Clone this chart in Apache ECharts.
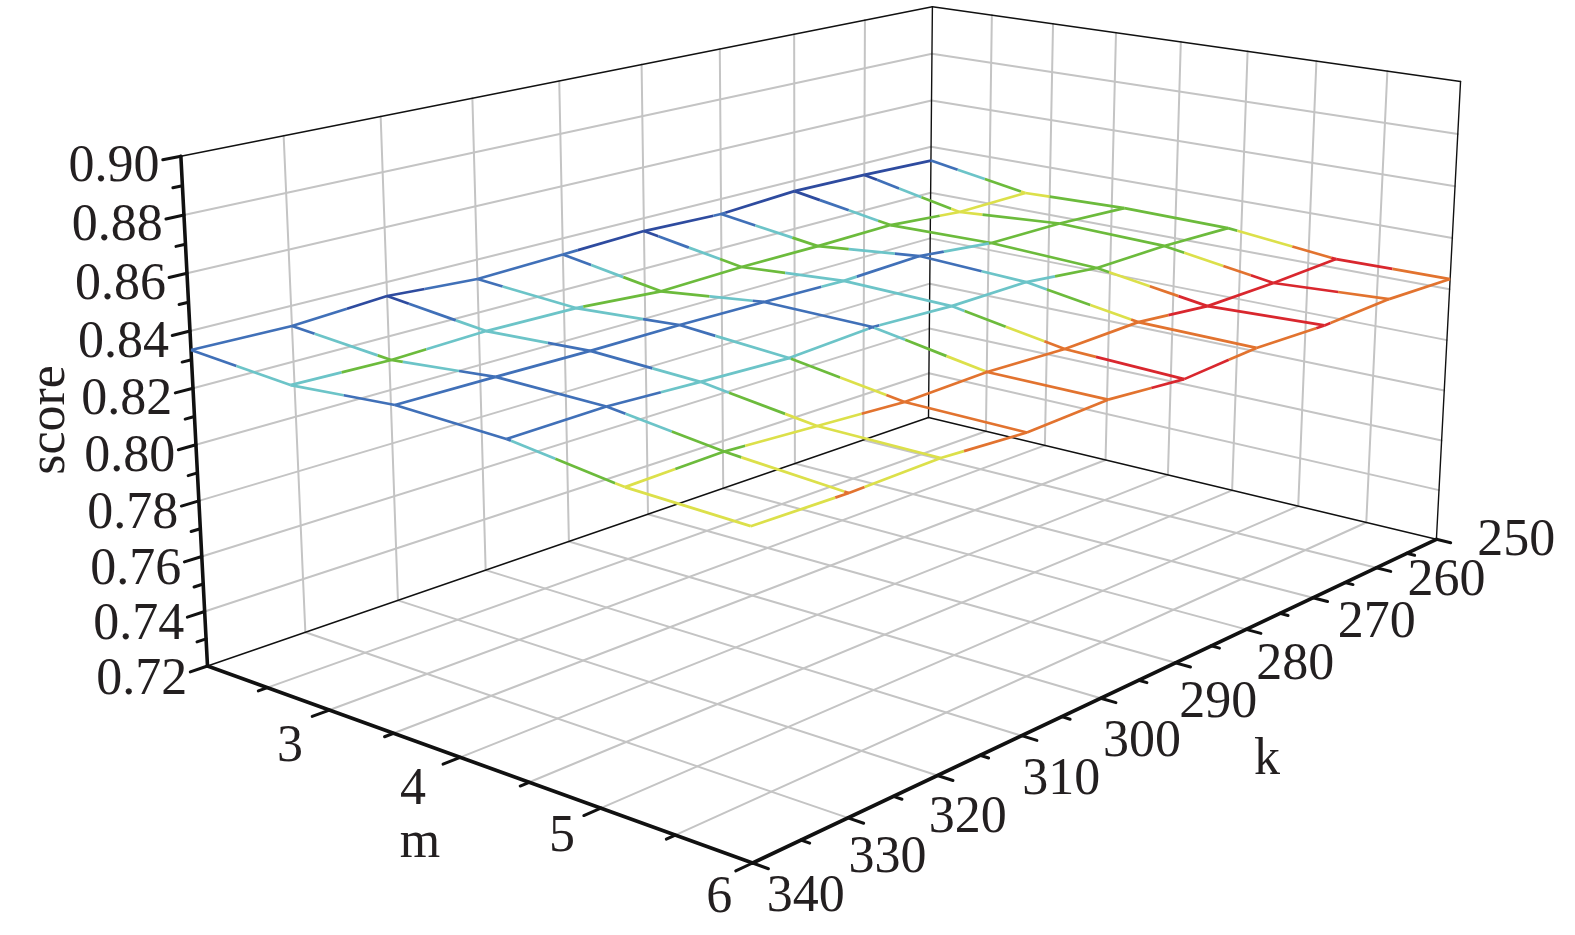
<!DOCTYPE html>
<html><head><meta charset="utf-8">
<style>html,body{margin:0;padding:0;background:#fff}#c{width:1575px;height:935px}</style>
<script src="https://cdn.jsdelivr.net/npm/echarts@6/dist/echarts.min.js"></script>
</head><body><div id="c"></div>
<script>
// ---- data ----
const kValues=[340,330,320,310,300,290,280,270,260,250];
const mValues=[2,2.8,3.6,4.4,5.2,6];
const scoreM2  =[.8334,.8328,.8349,.8327,.8338,.8349,.8339,.8357,.8351,.8340];
const scoreM2_8=[.8306,.8298,.8309,.8304,.8280,.8289,.8289,.8294,.8270,.8274];
const scoreM3_6=[.8335,.8333,.8329,.8330,.8326,.8319,.8331,.8301,.8300,.8286];
const scoreM4_4=[.8323,.8329,.8315,.8303,.8322,.8310,.8314,.8284,.8289,.8281];
const scoreM5_2=[.8273,.8281,.8263,.8245,.8253,.8242,.8250,.8222,.8225,.8236];
const scoreM6  =[.8260,.8253,.8259,.8240,.8252,.8227,.8245,.8237,.8248,.8240];
const scores=[scoreM2,scoreM2_8,scoreM3_6,scoreM4_4,scoreM5_2,scoreM6];
const zTicks=[.72,.74,.76,.78,.80,.82,.84,.86,.88,.90];
const mTicks=[3,4,5,6];
const kTicks=[340,330,320,310,300,290,280,270,260,250];
const kGrid=[260,270,280,290,300,310,320,330];
const mGrid=[2.5,3,3.5,4,4.5,5,5.5];
const zGrid=[.74,.76,.78,.80,.82,.84,.86,.88];
const bandLevels=[.8238,.8254,.8277,.8302,.8321,.8340];
const bandColors=['#d9272e','#e2732f','#dce04a','#6cbb3c','#6cc4c8','#4070b8','#2e4b9f'];

// ---- perspective camera: box corners on the page ----
const O=[928.5,417.5],U=[207.5,666],V=[1436.4,539.3],W=[932.4,6.7],D=[752.6,863],c=0.9666;
const det=(U[0]-D[0])*(V[1]-D[1])-(U[1]-D[1])*(V[0]-D[0]);
const r=[O[0]-D[0],O[1]-D[1]];
const a=(r[0]*(V[1]-D[1])-r[1]*(V[0]-D[0]))/det;
const b=((U[0]-D[0])*r[1]-(U[1]-D[1])*r[0])/det;
function proj(m,k,z){const u=(k-250)/90,v=(m-2)/4,w=(z-0.72)/0.18;
 const d=1+u*(a-1)+v*(b-1)+w*(c-1);
 return [0,1].map(i=>(O[i]+u*(a*U[i]-O[i])+v*(b*V[i]-O[i])+w*(c*W[i]-O[i]))/d);}

// ---- box ----
const gridSegs=[];
kGrid.forEach(k=>{gridSegs.push([2,k,.72,6,k,.72]);gridSegs.push([2,k,.72,2,k,.9]);});
mGrid.forEach(m=>{gridSegs.push([m,250,.72,m,340,.72]);gridSegs.push([m,250,.72,m,250,.9]);});
zGrid.forEach(z=>{gridSegs.push([2,340,z,2,250,z]);gridSegs.push([2,250,z,6,250,z]);});
const thinEdges=[[2,250,.72,2,250,.9],[2,250,.72,2,340,.72],[2,250,.72,6,250,.72],[2,250,.9,2,340,.9],[2,250,.9,6,250,.9],[6,250,.72,6,250,.9]];
const axisLines=[[2,340,.72,2,340,.9],[2,340,.72,6,340,.72],[6,340,.72,6,250,.72]];
const tickSegs=[];
for(let i=0;i<=18;i++){const z=.72+i*.01;tickSegs.push([2,340,z,2,340+(i%2?.9:1.7),z]);}
for(let i=1;i<=8;i++){const m=2+i*.5;tickSegs.push([m,340,.72,m,340+(i%2?.9:1.7),.72]);}
for(let i=0;i<=18;i++){const k=250+i*5;tickSegs.push([6,k,.72,6+(i%2?.055:.1),k,.72]);}

// ---- colour bands along each wire ----
const band=z=>{let i=0;while(i<bandLevels.length&&z>=bandLevels[i])i++;return i;};
function pieces(A,B){const out=[],za=A[2],zb=B[2],cuts=[0];
 bandLevels.forEach(l=>{const t=(l-za)/(zb-za);if(t>0&&t<1)cuts.push(t);});
 cuts.sort((x,y)=>x-y);cuts.push(1);
 const L=t=>A.map((v,n)=>v+(B[n]-v)*t);
 for(let i=0;i<cuts.length-1;i++){out.push([L(cuts[i]),L(cuts[i+1]),bandColors[band(za+(zb-za)*(cuts[i]+cuts[i+1])/2)]]);}
 return out;}
const vertices=[];scores.forEach((row,i)=>row.forEach((z,j)=>vertices.push([mValues[i],kValues[j],z])));

function segSeries(name,data,color,w){return{type:'custom',name,coordinateSystem:'cartesian2d',data,silent:true,clip:false,
 renderItem(p,api){const s=api.coord(proj(api.value(0),api.value(1),api.value(2))),e=api.coord(proj(api.value(3),api.value(4),api.value(5)));
  return{type:'line',shape:{x1:s[0],y1:s[1],x2:e[0],y2:e[1]},style:{stroke:color,lineWidth:w,lineCap:'round'}};}};}
const wireSeries={type:'custom',name:'score',coordinateSystem:'cartesian2d',data:vertices,silent:true,clip:false,
 renderItem(p,api){const idx=p.dataIndex,i=Math.floor(idx/10),j=idx%10,A=[api.value(0),api.value(1),api.value(2)],children=[];
  const nb=[];if(j<9)nb.push(vertices[idx+1]);if(i<5)nb.push(vertices[idx+10]);
  nb.forEach(B=>pieces(A,B).forEach(([s,e,col])=>{const p1=api.coord(proj(...s)),p2=api.coord(proj(...e));
   children.push({type:'line',shape:{x1:p1[0],y1:p1[1],x2:p2[0],y2:p2[1]},style:{stroke:col,lineWidth:2.7}});}));
  return{type:'group',children};}};

// ---- labels ----
const mShift=[[22,15],[14,9],[22,3],[27,7]];
const kShift=[[10,19],[-3,26],[-12,29],[-2,32],[0,32],[2,29],[9,25],[24,15],[31,4],[41,-7]];
const labels=[];
zTicks.forEach(z=>{const q=proj(2,342,z);labels.push({p:[q[0],q[1]+7],t:z.toFixed(2),al:'right'});});
mTicks.forEach((m,i)=>{const q=proj(m,346,.72);labels.push({p:[q[0]+mShift[i][0],q[1]+mShift[i][1]],t:String(m),al:'center'});});
kTicks.forEach((k,i)=>{const q=proj(6.27,k,.72);labels.push({p:[q[0]+kShift[i][0],q[1]+kShift[i][1]],t:String(k),al:'center'});});
labels.push({p:[420,843],t:'m',al:'center'},{p:[1267,760],t:'k',al:'center'},{p:[50,420],t:'score',al:'center',rot:Math.PI/2});
const labelSeries={type:'custom',name:'labels',coordinateSystem:'cartesian2d',data:labels.map((l,i)=>[i]),silent:true,clip:false,
 renderItem(p,api){const l=labels[p.dataIndex],q=api.coord(l.p);
  return{type:'text',x:q[0],y:q[1],rotation:l.rot||0,style:{text:l.t,fontFamily:'"Liberation Serif"',fontSize:52,fill:'#231f20',align:l.al,verticalAlign:'middle'}};}};

const chart=echarts.init(document.getElementById('c'),null,{renderer:'canvas'});
chart.setOption({animation:false,grid:{left:0,right:0,top:0,bottom:0},
 xAxis:{type:'value',min:0,max:1575,show:false},yAxis:{type:'value',min:0,max:935,inverse:true,show:false},
 series:[segSeries('grid',gridSegs,'#c4c4c4',2),segSeries('edges',thinEdges,'#111',1.4),segSeries('axes',axisLines,'#111',3.6),segSeries('ticks',tickSegs,'#111',3),wireSeries,labelSeries]});
</script></body></html>
